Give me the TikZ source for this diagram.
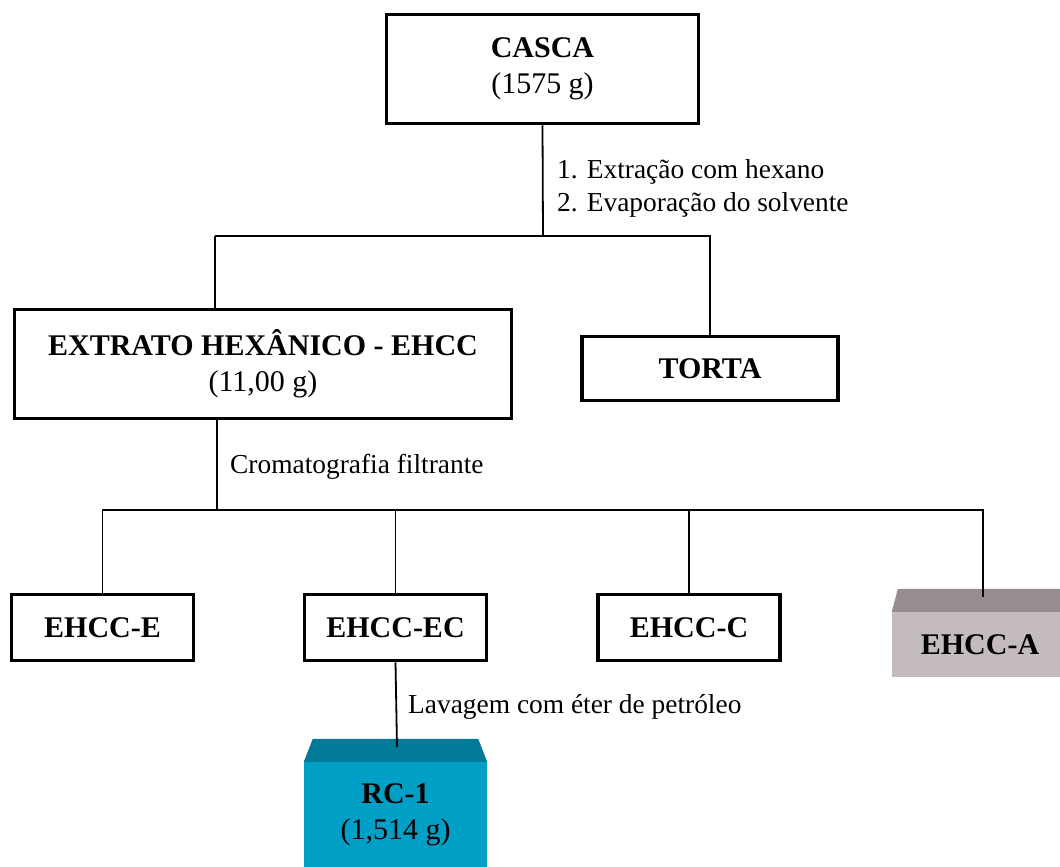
\documentclass[tikz,border=0pt]{standalone}
\usepackage{fontspec}
\setmainfont{Liberation Serif}
\definecolor{rcfront}{RGB}{0,160,198}
\definecolor{rctop}{RGB}{0,122,150}
\definecolor{afront}{RGB}{196,188,188}
\definecolor{atop}{RGB}{150,142,142}
\begin{document}
\begin{tikzpicture}[x=1pt,y=-1pt,
  box/.style={draw=black,line width=3.5pt,fill=white,inner sep=0pt,align=center,
              font=\fontsize{30}{36}\selectfont},
  thinbox/.style={box,line width=3.5pt},
  solid3d/.style={inner sep=0pt,align=center,font=\fontsize{30}{36}\selectfont},
  link/.style={draw=black,line width=1.8pt},
  note/.style={inner sep=0pt,anchor=west,align=left,font=\fontsize{27.4}{33}\selectfont}]
\useasboundingbox (0,0) rectangle (1060,867);

% main boxes
\node[box,minimum width=312,minimum height=109] (casca) at (542.5,69) {\textbf{CASCA}\\(1575 g)};
\node[box,minimum width=497,minimum height=109] (ehcc) at (263,364) {\textbf{EXTRATO HEXÂNICO - EHCC}\\(11,00 g)};
\node[box,minimum width=256,minimum height=64] (torta) at (710,368.5) {\textbf{TORTA}};

% fractions
\node[thinbox,minimum width=182,minimum height=66] (ee) at (102.5,627.5) {\textbf{EHCC-E}};
\node[thinbox,minimum width=182,minimum height=66] (eec) at (395.5,627.5) {\textbf{EHCC-EC}};
\node[thinbox,minimum width=182,minimum height=66] (ec) at (689,627.5) {\textbf{EHCC-C}};

% raised blocks
\node[solid3d,fill=afront,minimum width=176,minimum height=65] (ea) at (980,644.5) {\textbf{EHCC-A}};
\fill[atop] (ea.north west) -- ([shift={(6,-23)}]ea.north west)
  -- ([shift={(-6,-23)}]ea.north east) -- (ea.north east) -- cycle;
\node[solid3d,fill=rcfront,minimum width=183,minimum height=105] (rc) at (395.5,814.5)
  {\textbf{RC-1}\\(1,514 g)};
\fill[rctop] (rc.north west) -- ([shift={(9,-23)}]rc.north west)
  -- ([shift={(-9,-23)}]rc.north east) -- (rc.north east) -- cycle;

% junction points
\coordinate (s1) at (543,236);
\coordinate (b1) at (215,236);
\coordinate (b2) at (217,510);
\coordinate (atopc) at (983,597);
\coordinate (rctopc) at (397,747);

% connectors
\draw[link] (casca.south) -- (s1);
\draw[link] (b1) -- (s1) -| (torta.north);
\draw[link] (b1) -- (b1 |- ehcc.north);
\draw[link] (ehcc.south -| b2) -- (b2);
\draw[link] (ee.north) |- (b2) -| (atopc);
\draw[link] (eec.north) -- (eec.north |- b2);
\draw[link] (ec.north) -- (ec.north |- b2);
\draw[link] (eec.south) -- (rctopc);

% step labels
\node[note] (n1) at (557,188) {1. Extração com hexano\\2. Evaporação do solvente};
\node[note] (n2) at (230,467) {Cromatografia filtrante};
\node[note] (n3) at (408,707) {Lavagem com éter de petróleo};
\end{tikzpicture}
\end{document}
